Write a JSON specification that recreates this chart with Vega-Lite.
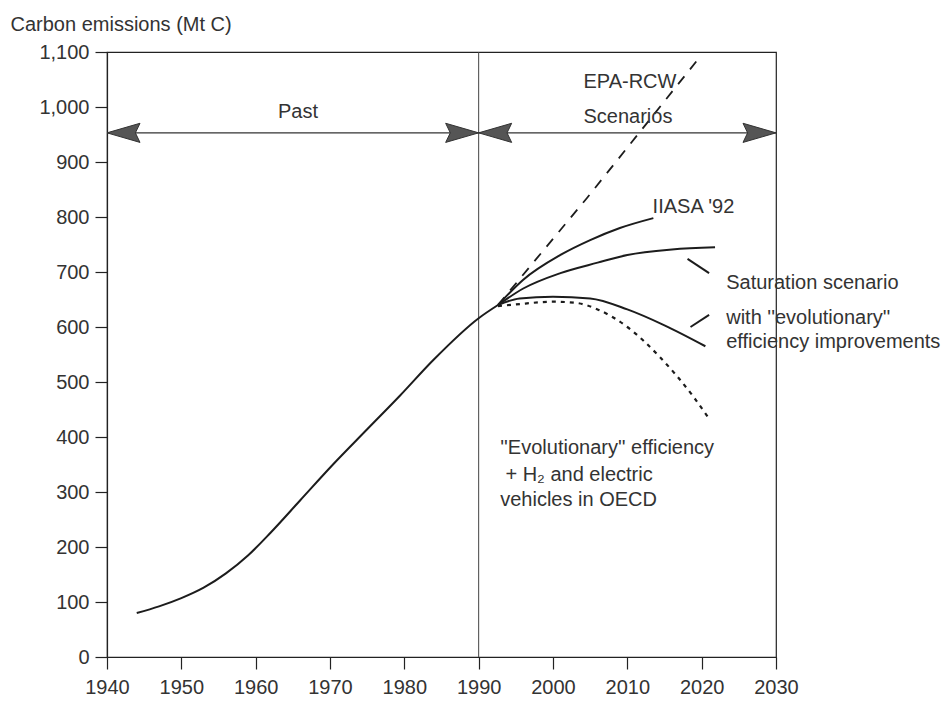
{
  "$schema": "https://vega.github.io/schema/vega-lite/v6.json",
  "width": 669,
  "height": 605,
  "autosize": "none",
  "padding": {"left": 107, "top": 52, "right": 173, "bottom": 55},
  "background": "white",
  "config": {
    "font": "Liberation Sans",
    "view": {"stroke": "#222", "strokeWidth": 1.2},
    "axis": {"grid": false, "domainColor": "#222", "tickColor": "#222", "labelColor": "#333", "labelFont": "Liberation Sans", "labelFontSize": 20, "tickSize": 12, "domainWidth": 1.2, "tickWidth": 1.2, "labelFlush": false, "labelOverlap": false}
  },
  "datasets": {
    "series": [
      {"series": "Historical", "year": 1944.0, "value": 80},
      {"series": "Historical", "year": 1947.0, "value": 92},
      {"series": "Historical", "year": 1950.0, "value": 107},
      {"series": "Historical", "year": 1953.0, "value": 126},
      {"series": "Historical", "year": 1956.0, "value": 152},
      {"series": "Historical", "year": 1959.0, "value": 185},
      {"series": "Historical", "year": 1962.0, "value": 226},
      {"series": "Historical", "year": 1966.0, "value": 285},
      {"series": "Historical", "year": 1970.4, "value": 350},
      {"series": "Historical", "year": 1975.0, "value": 414},
      {"series": "Historical", "year": 1979.4, "value": 475},
      {"series": "Historical", "year": 1983.9, "value": 540},
      {"series": "Historical", "year": 1990.0, "value": 616},
      {"series": "Historical", "year": 1992.6, "value": 640},
      {"series": "IIASA '92", "year": 1992.6, "value": 640},
      {"series": "IIASA '92", "year": 1996.0, "value": 686},
      {"series": "IIASA '92", "year": 2001.0, "value": 731},
      {"series": "IIASA '92", "year": 2005.0, "value": 758},
      {"series": "IIASA '92", "year": 2009.0, "value": 780},
      {"series": "IIASA '92", "year": 2013.5, "value": 798},
      {"series": "Saturation scenario", "year": 1992.6, "value": 640},
      {"series": "Saturation scenario", "year": 1996.0, "value": 670},
      {"series": "Saturation scenario", "year": 2001.0, "value": 698},
      {"series": "Saturation scenario", "year": 2006.0, "value": 717},
      {"series": "Saturation scenario", "year": 2010.0, "value": 731},
      {"series": "Saturation scenario", "year": 2016.0, "value": 741},
      {"series": "Saturation scenario", "year": 2021.8, "value": 745},
      {"series": "Saturation + efficiency", "year": 1992.6, "value": 640},
      {"series": "Saturation + efficiency", "year": 1995.5, "value": 652},
      {"series": "Saturation + efficiency", "year": 2000.0, "value": 655},
      {"series": "Saturation + efficiency", "year": 2005.0, "value": 652},
      {"series": "Saturation + efficiency", "year": 2010.0, "value": 632},
      {"series": "Saturation + efficiency", "year": 2015.0, "value": 603},
      {"series": "Saturation + efficiency", "year": 2020.5, "value": 565},
      {"series": "EPA-RCW", "year": 1992.6, "value": 640},
      {"series": "EPA-RCW", "year": 2004.6, "value": 835},
      {"series": "EPA-RCW", "year": 2020.0, "value": 1095},
      {"series": "Efficiency + H2 and EV", "year": 1992.6, "value": 638},
      {"series": "Efficiency + H2 and EV", "year": 1995.0, "value": 641},
      {"series": "Efficiency + H2 and EV", "year": 2000.0, "value": 646},
      {"series": "Efficiency + H2 and EV", "year": 2003.0, "value": 644},
      {"series": "Efficiency + H2 and EV", "year": 2006.0, "value": 632},
      {"series": "Efficiency + H2 and EV", "year": 2010.0, "value": 600},
      {"series": "Efficiency + H2 and EV", "year": 2014.4, "value": 545},
      {"series": "Efficiency + H2 and EV", "year": 2018.9, "value": 473},
      {"series": "Efficiency + H2 and EV", "year": 2020.9, "value": 435}
    ],
    "labels": [
      {"text": "Past", "year": 1963.0, "value": 991},
      {"text": "EPA-RCW", "year": 2004.1, "value": 1045},
      {"text": "Scenarios", "year": 2004.1, "value": 982},
      {"text": "IIASA '92", "year": 2013.4, "value": 818},
      {"text": "Saturation scenario", "year": 2023.3, "value": 680},
      {"text": "with ''evolutionary''", "year": 2023.3, "value": 616},
      {"text": "efficiency improvements", "year": 2023.3, "value": 573},
      {"text": "''Evolutionary'' efficiency", "year": 1992.9, "value": 380},
      {"text": "+ H₂ and electric", "year": 1993.6, "value": 331},
      {"text": "vehicles in OECD", "year": 1992.9, "value": 285}
    ],
    "pointers": [
      {"year": 2018.1, "value": 724, "year2": 2021.0, "value2": 698},
      {"year": 2018.5, "value": 600, "year2": 2021.0, "value2": 622}
    ],
    "arrows": [
      {"year": 1940, "value": 953, "direction": "left"},
      {"year": 1990, "value": 953, "direction": "right"},
      {"year": 1990, "value": 953, "direction": "left"},
      {"year": 2030, "value": 953, "direction": "right"}
    ],
    "divider": [{"year": 1990, "value": 0, "value2": 1100}],
    "span": [{"year": 1940, "year2": 2030, "value": 953}]
  },
  "encoding": {
    "x": {
      "field": "year", "type": "quantitative",
      "scale": {"domain": [1940, 2030], "nice": false, "zero": false},
      "axis": {"title": null, "values": [1940, 1950, 1960, 1970, 1980, 1990, 2000, 2010, 2020, 2030], "format": "d", "labelPadding": 8}
    },
    "y": {
      "field": "value", "type": "quantitative",
      "scale": {"domain": [0, 1100], "nice": false},
      "axis": {
        "title": "Carbon emissions (Mt C)",
        "values": [0, 100, 200, 300, 400, 500, 600, 700, 800, 900, 1000, 1100],
        "format": ",d", "labelPadding": 6,
        "titleAngle": 0, "titleAlign": "left", "titleBaseline": "middle",
        "titleX": -97, "titleY": -28, "titleFontSize": 20, "titleFontWeight": "normal", "titleColor": "#333", "titleFont": "Liberation Sans"
      }
    }
  },
  "layer": [
    {
      "data": {"name": "divider"},
      "mark": {"type": "rule", "color": "#444", "strokeWidth": 1},
      "encoding": {"y2": {"field": "value2"}}
    },
    {
      "data": {"name": "span"},
      "mark": {"type": "rule", "color": "#333", "strokeWidth": 1.3},
      "encoding": {"x2": {"field": "year2"}}
    },
    {
      "data": {"name": "series"},
      "transform": [{"filter": {"field": "series", "oneOf": ["Historical", "IIASA '92", "Saturation scenario", "Saturation + efficiency"]}}],
      "mark": {"type": "line", "interpolate": "monotone", "color": "#1c1c1c", "strokeWidth": 2},
      "encoding": {"detail": {"field": "series"}}
    },
    {
      "data": {"name": "series"},
      "transform": [{"filter": {"field": "series", "equal": "EPA-RCW"}}],
      "mark": {"type": "line", "color": "#1c1c1c", "strokeWidth": 1.8, "strokeDash": [10, 9]},
      "encoding": {"detail": {"field": "series"}}
    },
    {
      "data": {"name": "series"},
      "transform": [{"filter": {"field": "series", "equal": "Efficiency + H2 and EV"}}],
      "mark": {"type": "line", "interpolate": "monotone", "color": "#1c1c1c", "strokeWidth": 2.2, "strokeDash": [4, 5]},
      "encoding": {"detail": {"field": "series"}}
    },
    {
      "data": {"name": "pointers"},
      "mark": {"type": "rule", "color": "#1c1c1c", "strokeWidth": 2},
      "encoding": {"x2": {"field": "year2"}, "y2": {"field": "value2"}}
    },
    {
      "data": {"name": "arrows"},
      "transform": [{"filter": {"field": "direction", "equal": "left"}}],
      "mark": {"type": "point", "shape": "M0,0 L2,-0.58 L1.72,0 L2,0.58 Z", "size": 1089, "filled": true, "fill": "#555", "stroke": "#333", "strokeWidth": 1, "opacity": 1}
    },
    {
      "data": {"name": "arrows"},
      "transform": [{"filter": {"field": "direction", "equal": "right"}}],
      "mark": {"type": "point", "shape": "M0,0 L-2,-0.58 L-1.72,0 L-2,0.58 Z", "size": 1089, "filled": true, "fill": "#555", "stroke": "#333", "strokeWidth": 1, "opacity": 1}
    },
    {
      "data": {"name": "labels"},
      "mark": {"type": "text", "align": "left", "baseline": "middle", "font": "Liberation Sans", "fontSize": 20, "color": "#333"},
      "encoding": {"text": {"field": "text"}}
    }
  ]
}
